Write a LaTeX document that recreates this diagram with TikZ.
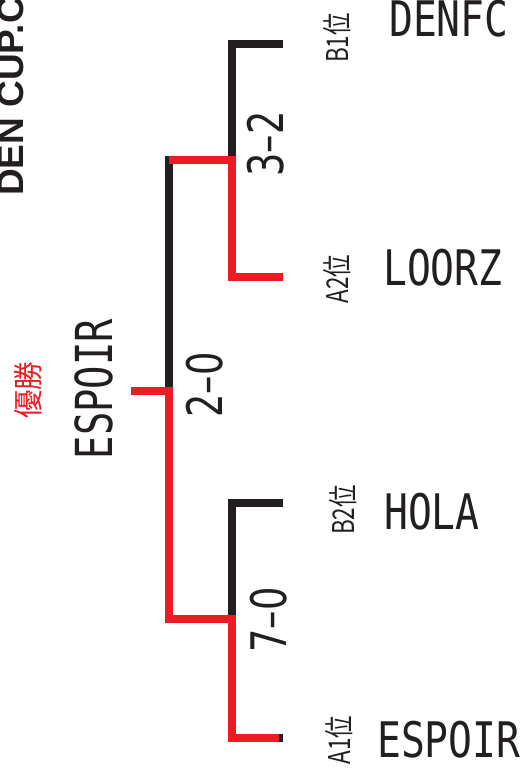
\documentclass[tikz,border=0pt]{standalone}
\usepackage{fontspec}
\newfontfamily\namefont{DejaVu Sans Mono}
\newfontfamily\scorefont{DejaVu Sans}
\newfontfamily\cjkfont{Noto Sans CJK JP}
\newfontfamily\titlefont{Liberation Sans}
\definecolor{winred}{RGB}{237,28,36}
\definecolor{lineblack}{RGB}{35,31,32}

\tikzstyle{team} = [anchor=base west, inner sep=0pt, xscale=0.81, text=lineblack, font=\namefont\fontsize{49}{49}\selectfont]
\tikzstyle{score} = [rotate=90, inner sep=0pt, xscale=0.75, text=lineblack, font=\scorefont\fontsize{49}{49}\selectfont]
\tikzstyle{seed} = [rotate=90, inner sep=0pt, xscale=0.75, text=lineblack, font=\cjkfont\fontsize{30}{30}\selectfont]
\tikzstyle{lost edge} = [draw, line width=7.5pt, lineblack]
\tikzstyle{won edge} = [draw, line width=7.5pt, winred]

\begin{document}
\begin{tikzpicture}[x=1pt, y=-1pt, line join=miter]
    \useasboundingbox (0,0) rectangle (523,778);
    %% title, cut by the page edge
    \node[rotate=90, anchor=base west, inner sep=0pt, text=lineblack,
      font=\titlefont\bfseries\fontsize{37}{37}\selectfont] (title) at (23,196) {DEN CUP.C};
    %% teams and seeds
    \foreach \nodename/\team/\x/\y/\seedx/\seedy/\seedtext in {
      denfc/DENFC/389/37/337/38/B1,
      loorz/LOORZ/383/285/337/279/A2,
      hola/HOLA/384/529/343/510/B2,
      espoir/ESPOIR/377/757/339/740/A1}
    {
      \node[team] (\nodename) at (\x,\y) {\team};
      \node[seed] (\nodename-seed) at (\seedx,\seedy) {\seedtext 位};
    }
    %% winner
    \node[rotate=90, inner sep=0pt, text=winred, xscale=0.95,
      font=\cjkfont\fontsize{30}{30}\selectfont] (champion) at (28,390) {優勝};
    \node[rotate=90, inner sep=0pt, xscale=0.76, text=lineblack,
      font=\namefont\fontsize{51}{51}\selectfont] (winner) at (94,389) {ESPOIR};
    %% scores
    \foreach \nodename/\x/\y/\result in {
      semione/266/144/3–2, final/205/385/2–0, semitwo/269/620/7–0}
    {
      \node[score] (\nodename-score) at (\x,\y) {\result};
    }
    %% bracket points
    \coordinate (b1end) at (283,44);    \coordinate (b1turn) at (232,44);
    \coordinate (a2end) at (283,277);   \coordinate (a2turn) at (232,277);
    \coordinate (semione) at (232,160); \coordinate (finaltop) at (169,160);
    \coordinate (finalblack) at (169,156.25);
    \coordinate (finalmid) at (169,391); \coordinate (champend) at (131,391);
    \coordinate (finalbot) at (169,619); \coordinate (semitwo) at (232,619);
    \coordinate (b2end) at (283,503);   \coordinate (b2turn) at (232,503);
    \coordinate (a1end) at (279,738);   \coordinate (a1tip) at (283,738);
    \coordinate (a1turn) at (232,738);
    %% lost paths
    \path[lost edge] (b1end) -- (b1turn) -- (semione);
    \path[lost edge] (finalblack) -- (finalmid);
    \path[lost edge] (b2end) -- (b2turn) -- (semitwo);
    \path[lost edge] ([xshift=-4pt]a1end) -- (a1tip);
    %% winning path
    \path[won edge] (a2end) -- (a2turn) -- (semione) -- (finaltop);
    \path[won edge] (champend) -- (finalmid) -- (finalbot) -- (semitwo) -- (a1turn) -- (a1end);
  \end{tikzpicture}
\end{document}
